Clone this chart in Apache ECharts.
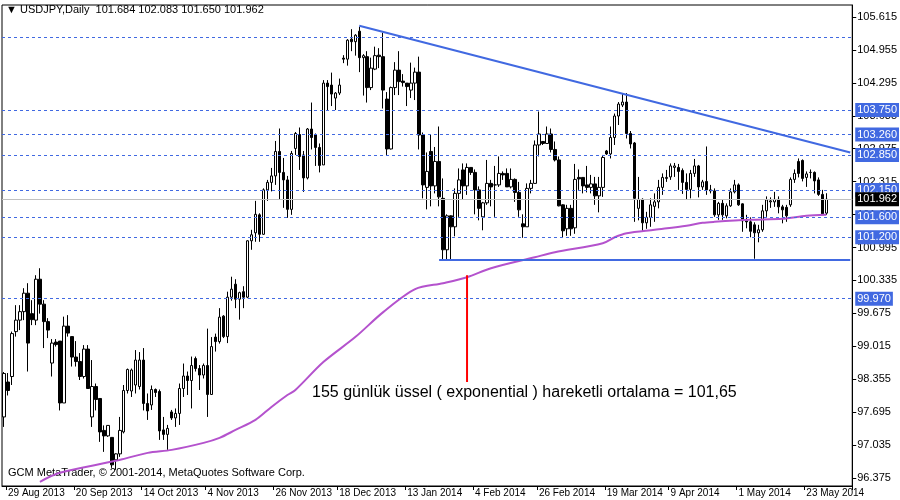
<!doctype html>
<html>
<head>
<meta charset="UTF-8">
<script src="https://cdn.jsdelivr.net/npm/echarts@6/dist/echarts.min.js"></script>
<style>html,body{margin:0;padding:0;background:#fff}</style>
</head>
<body>
<div id="main" style="width:900px;height:500px;"></div>
<script>
// candles: [open, close, low, high]
var ohlc = [
[97.60,98.47,97.40,98.50],[98.30,98.13,98.03,98.48],[98.41,99.27,98.24,99.31],[99.31,99.54,99.21,99.84],
[99.54,99.71,99.34,99.84],[99.71,100.08,99.54,100.18],[100.08,99.08,98.51,100.28],[99.67,99.55,99.44,99.94],
[99.54,100.36,99.44,100.44],[100.36,99.86,99.67,100.58],[99.86,99.51,98.98,99.94],[99.51,99.34,99.18,99.58],
[98.68,99.08,98.41,99.16],[99.10,99.05,99.01,99.16],[99.12,97.88,97.73,99.12],[97.88,99.42,97.88,99.61],
[99.42,99.28,99.21,99.64],[99.21,98.80,98.61,99.21],[98.80,98.71,98.61,99.12],[98.71,98.41,98.34,98.88],
[98.41,98.96,98.37,99.04],[98.96,98.17,98.17,99.04],[97.60,98.21,97.40,98.74],[98.21,97.95,97.73,98.27],
[97.97,97.30,97.10,97.97],[97.33,97.22,96.90,97.43],[97.22,97.43,97.20,97.43],[97.19,96.64,96.58,97.19],
[96.74,96.86,96.54,96.87],[96.86,97.33,96.80,97.60],[97.30,98.13,97.27,98.24],[98.13,98.55,98.07,98.57],
[98.12,98.54,98.00,98.57],[98.24,98.74,98.07,98.94],[98.21,98.74,98.15,98.90],[98.74,97.87,97.73,98.98],
[97.87,97.72,97.54,98.07],[97.84,98.15,97.74,98.23],[98.15,98.09,98.00,98.17],[98.11,97.32,97.14,98.15],
[97.34,97.25,97.14,97.60],[97.25,97.37,96.94,97.44],[97.70,97.58,97.54,97.74],[97.58,97.67,97.40,97.77],
[97.67,98.17,97.44,98.27],[98.17,98.42,98.00,98.67],[98.42,98.33,98.04,98.51],[98.33,98.63,97.77,98.81],
[98.77,98.57,98.51,98.81],[98.57,98.44,98.14,98.64],[98.44,98.63,98.37,98.67],[98.63,98.05,97.60,99.37],
[98.05,99.01,98.04,99.20],[99.20,99.11,98.91,99.27],[99.11,99.60,99.07,99.78],[99.62,99.21,99.18,99.64],
[99.21,100.00,99.08,100.11],[100.00,100.16,99.93,100.41],[100.26,99.96,99.78,100.36],[99.96,100.09,99.55,100.11],
[100.11,100.00,99.78,100.22],[100.00,101.13,99.98,101.14],[101.13,101.25,100.95,101.35],[101.29,101.66,101.11,101.93],
[101.65,101.26,101.11,101.68],[101.26,102.15,101.25,102.18],[102.15,102.30,101.93,102.35],[102.30,102.43,102.12,102.59],
[102.43,102.92,102.25,103.13],[102.92,102.50,101.96,103.38],[102.50,102.35,101.79,102.79],[102.35,101.76,101.59,102.43],
[101.76,102.88,101.65,102.93],[102.98,103.28,102.85,103.31],[103.26,102.82,102.55,103.40],[102.85,102.39,102.11,102.93],
[102.39,103.37,102.36,103.39],[103.37,103.20,102.96,103.90],[103.26,103.00,102.63,103.28],[103.00,102.64,102.50,103.08],
[102.65,104.29,102.65,104.35],[104.29,104.22,103.75,104.35],[104.25,104.07,103.83,104.50],[103.99,104.09,103.75,104.11],
[104.09,104.25,104.05,104.38],[104.79,104.77,104.69,104.85],[104.77,105.15,104.64,105.17],[105.17,105.12,104.93,105.37],
[105.12,105.25,104.84,105.27],[105.33,104.80,104.51,105.42],[104.80,104.84,104.04,104.87],[104.82,104.20,103.90,104.93],
[104.20,104.59,104.15,104.80],[104.57,104.84,104.55,105.02],[104.85,104.82,104.59,104.99],[104.82,104.15,103.78,105.30],
[103.97,102.97,102.85,104.11],[102.97,104.20,102.96,104.22],[104.20,104.55,104.05,104.71],[104.55,104.32,104.05,104.93],
[104.33,104.30,104.22,104.47],[104.29,104.22,103.83,104.29],[104.15,104.29,103.99,104.70],[104.29,104.51,103.95,104.60],
[104.51,103.25,102.96,104.82],[103.25,102.25,101.98,103.30],[102.20,102.52,101.76,102.90],[102.92,102.23,101.82,103.25],
[102.23,102.72,102.08,103.01],[102.72,102.01,101.82,103.42],[101.98,100.95,100.75,102.38],[100.95,101.63,100.75,101.66],
[101.63,101.41,100.75,101.64],[101.41,102.08,101.22,102.18],[102.08,102.35,101.61,102.58],[102.55,102.23,101.95,102.68],
[102.23,102.60,102.05,102.68],[102.60,102.50,102.45,102.60],[102.50,102.15,101.66,102.56],[102.15,101.78,101.54,102.22],
[101.61,101.89,101.34,101.91],[101.89,102.28,101.85,102.75],[102.28,102.21,101.82,102.35],[102.25,102.25,101.61,102.63],
[102.25,102.48,102.21,102.82],[102.48,102.45,102.35,102.52],[102.48,102.21,102.21,102.58],[102.21,102.36,102.18,102.58],
[102.36,102.10,101.91,102.38],[102.10,101.75,101.61,102.31],[101.47,101.41,101.19,101.66],[101.41,102.18,101.41,102.28],
[102.18,102.28,102.08,102.35],[102.28,103.05,102.28,103.14],[103.05,103.27,102.82,103.72],[103.12,103.08,103.05,103.13],
[103.08,103.27,103.08,103.42],[103.27,102.96,102.90,103.38],[102.96,102.75,102.72,103.12],[102.75,101.83,101.82,102.82],
[101.85,101.33,101.19,101.86],[101.37,101.78,101.23,101.85],[101.78,101.37,101.23,101.85],[101.39,102.36,101.27,102.67],
[102.40,102.37,102.15,102.56],[102.40,102.23,102.08,102.40],[102.25,102.20,102.10,102.63],[102.20,102.27,102.08,102.45],
[102.27,102.03,101.85,102.41],[102.03,102.20,101.70,102.41],[102.20,102.80,102.01,102.85],[102.93,102.87,102.85,102.95],
[102.87,103.20,102.78,103.42],[103.20,103.63,103.05,103.68],[103.63,103.87,103.45,103.91],[103.85,103.91,103.81,104.08],
[103.91,103.28,103.18,104.09],[103.28,103.07,102.98,103.33],[103.09,101.98,101.51,103.11],[101.78,101.96,101.54,102.41],
[101.96,101.49,101.33,101.98],[101.49,101.60,101.37,101.71],[101.60,101.85,101.41,101.98],[101.82,101.91,101.51,102.08],
[101.91,102.20,101.78,102.35],[102.20,102.40,102.05,102.48],[102.38,102.40,102.31,102.55],[102.41,102.63,102.35,102.68],
[102.60,102.63,102.41,102.69],[102.60,102.52,102.15,102.67],[102.54,102.30,102.07,102.58],[102.30,102.16,101.95,102.48],
[102.16,102.48,101.98,102.55],[102.48,102.63,102.41,102.77],[102.63,102.21,102.00,102.65],[102.21,102.31,102.15,102.35],
[102.32,102.15,102.05,103.02],[102.15,102.13,102.08,102.25],[102.13,101.65,101.61,102.18],[101.65,101.88,101.55,101.91],
[101.88,101.65,101.55,101.95],[101.63,101.83,101.58,101.88],[101.83,102.11,101.81,102.18],[102.11,102.25,102.08,102.35],
[102.25,101.85,101.83,102.28],[101.87,101.53,101.31,101.88],[101.53,101.51,101.38,101.65],[101.51,101.32,101.20,101.60],
[101.45,101.29,100.77,101.50],[101.29,101.35,101.10,101.45],[101.35,101.73,101.31,101.85],[101.73,101.95,101.61,102.02],
[101.91,101.93,101.79,102.00],[101.91,101.96,101.81,102.11],[101.96,101.81,101.68,102.02],[101.81,101.75,101.48,101.85],
[101.80,101.63,101.51,101.85],[101.85,102.36,101.81,102.40],[102.36,102.48,102.29,102.56],[102.72,102.48,102.40,102.78],
[102.74,102.38,102.32,102.76],[102.40,102.47,102.21,102.52],[102.50,102.50,102.38,102.56],[102.50,102.33,102.08,102.52],
[102.35,102.06,102.03,102.40],[102.06,101.67,101.65,102.15],[101.684,101.962,101.650,102.083]
];

// 155 EMA, read at a few candle indices
var maIdx = [9, 14, 28, 36, 42, 50, 54, 58, 63, 67, 71, 73, 80, 88, 95, 103, 110, 116, 122, 133, 138, 150, 153, 156, 163, 171, 175, 178, 187, 195, 201, 206];
var maVal = [96.30, 96.48, 96.72, 96.88, 96.94, 97.08, 97.18, 97.34, 97.54, 97.80, 98.04, 98.14, 98.70, 99.20, 99.70, 100.16, 100.28, 100.40, 100.58, 100.80, 100.90, 101.08, 101.20, 101.28, 101.35, 101.43, 101.49, 101.51, 101.55, 101.57, 101.63, 101.65];

var dateIdx = [1, 18, 35, 51, 68, 84, 101, 118, 134, 151, 167, 184, 201];
var dateLabels = ['29 Aug 2013', '20 Sep 2013', '14 Oct 2013', '4 Nov 2013', '26 Nov 2013', '18 Dec 2013', '13 Jan 2014', '4 Feb 2014', '26 Feb 2014', '19 Mar 2014', '9 Apr 2014', '1 May 2014', '23 May 2014'];

var yTicks = [96.375, 97.035, 97.695, 98.355, 99.015, 99.675, 100.335, 100.995, 101.655, 102.315, 102.975, 103.635, 104.295, 104.955, 105.615];
var levels = [103.750, 103.260, 102.850, 102.150, 101.600, 101.200, 99.970];
var topLevel = 105.21;
var lastPrice = 101.962;

var trendLine = [[89, 105.44], [212, 102.90]];
var supportLine = [[109, 100.745], [212, 100.745]];
var pointer = [[116, 100.44], [116, 98.30]];

var nCat = 213;
var cats = [];
for (var i = 0; i < nCat; i++) cats.push(i);
var maData = maIdx.map(function (k, j) { return [k, maVal[j]]; });

var blue = '#4169E1';
var font = 'Liberation Sans';
var markData = levels.map(function (v) {
    return {
        yAxis: v,
        label: { show: true, formatter: v.toFixed(3), backgroundColor: blue, color: '#fff' }
    };
});
markData.push({ yAxis: topLevel, label: { show: false } });
markData.push({
    yAxis: lastPrice,
    lineStyle: { color: '#c0c0c0', type: 'solid' },
    label: { show: true, formatter: lastPrice.toFixed(3), backgroundColor: '#000', color: '#fff' }
});

var chart = echarts.init(document.getElementById('main'));
chart.setOption({
    animation: false,
    textStyle: { fontFamily: font, fontSize: 11 },
    grid: { left: 2, right: 43, top: 5, bottom: 14, show: true, borderColor: '#000', borderWidth: 1 },
    xAxis: {
        type: 'category',
        data: cats,
        boundaryGap: true,
        axisLine: { lineStyle: { color: '#000' } },
        axisTick: { show: true, length: 4, lineStyle: { color: '#000' },
            interval: function (i) { return dateIdx.indexOf(i) >= 0; } },
        axisLabel: {
            color: '#000', fontSize: 10, fontFamily: font, align: 'left', margin: 2,
            interval: function (i) { return dateIdx.indexOf(i) >= 0; },
            formatter: function (v, i) { var p = dateIdx.indexOf(i); return p >= 0 ? dateLabels[p] : ''; }
        },
        splitLine: { show: false }
    },
    yAxis: {
        type: 'value',
        position: 'right',
        min: 96.216,
        max: 105.855,
        axisLine: { show: true, lineStyle: { color: '#000' } },
        axisTick: { show: true, length: 4, customValues: yTicks, lineStyle: { color: '#000' } },
        axisLabel: { color: '#000', fontSize: 11, fontFamily: font, margin: 5, customValues: yTicks,
            formatter: function (v) { return v.toFixed(3); } },
        splitLine: { show: false }
    },
    series: [
        {
            type: 'candlestick',
            data: ohlc,
            barWidth: 3,
            itemStyle: { color: '#fff', color0: '#000', borderColor: '#000', borderColor0: '#000', borderWidth: 1 },
            markLine: {
                silent: true,
                symbol: 'none',
                lineStyle: { color: blue, type: [3, 3], width: 1 },
                label: { position: 'end', distance: 3, fontSize: 11, padding: [2, 2, 1, 2], fontFamily: font },
                data: markData
            }
        },
        {
            type: 'line', data: maData, connectNulls: true, showSymbol: false, smooth: 0.3,
            lineStyle: { color: '#B452CD', width: 2 }
        },
        {
            type: 'line', data: trendLine, showSymbol: false,
            lineStyle: { color: blue, width: 2 }
        },
        {
            type: 'line', data: supportLine, showSymbol: false,
            lineStyle: { color: blue, width: 2 }
        },
        {
            type: 'line', data: pointer, showSymbol: false,
            lineStyle: { color: '#ff0000', width: 2 }
        }
    ],
    graphic: [
        { type: 'text', left: 6, top: 4, style: { text: '▼ USDJPY,Daily  101.684 102.083 101.650 101.962', fontSize: 11, fontFamily: font, fill: '#000' } },
        { type: 'text', left: 8, top: 467, style: { text: 'GCM MetaTrader, © 2001-2014, MetaQuotes Software Corp.', fontSize: 11, fontFamily: font, fill: '#000' } },
        { type: 'text', left: 312, top: 385, style: { text: '155 günlük üssel ( exponential ) hareketli ortalama = 101,65', fontSize: 16, fontFamily: font, fill: '#000' } }
    ]
});
</script>
</body>
</html>
